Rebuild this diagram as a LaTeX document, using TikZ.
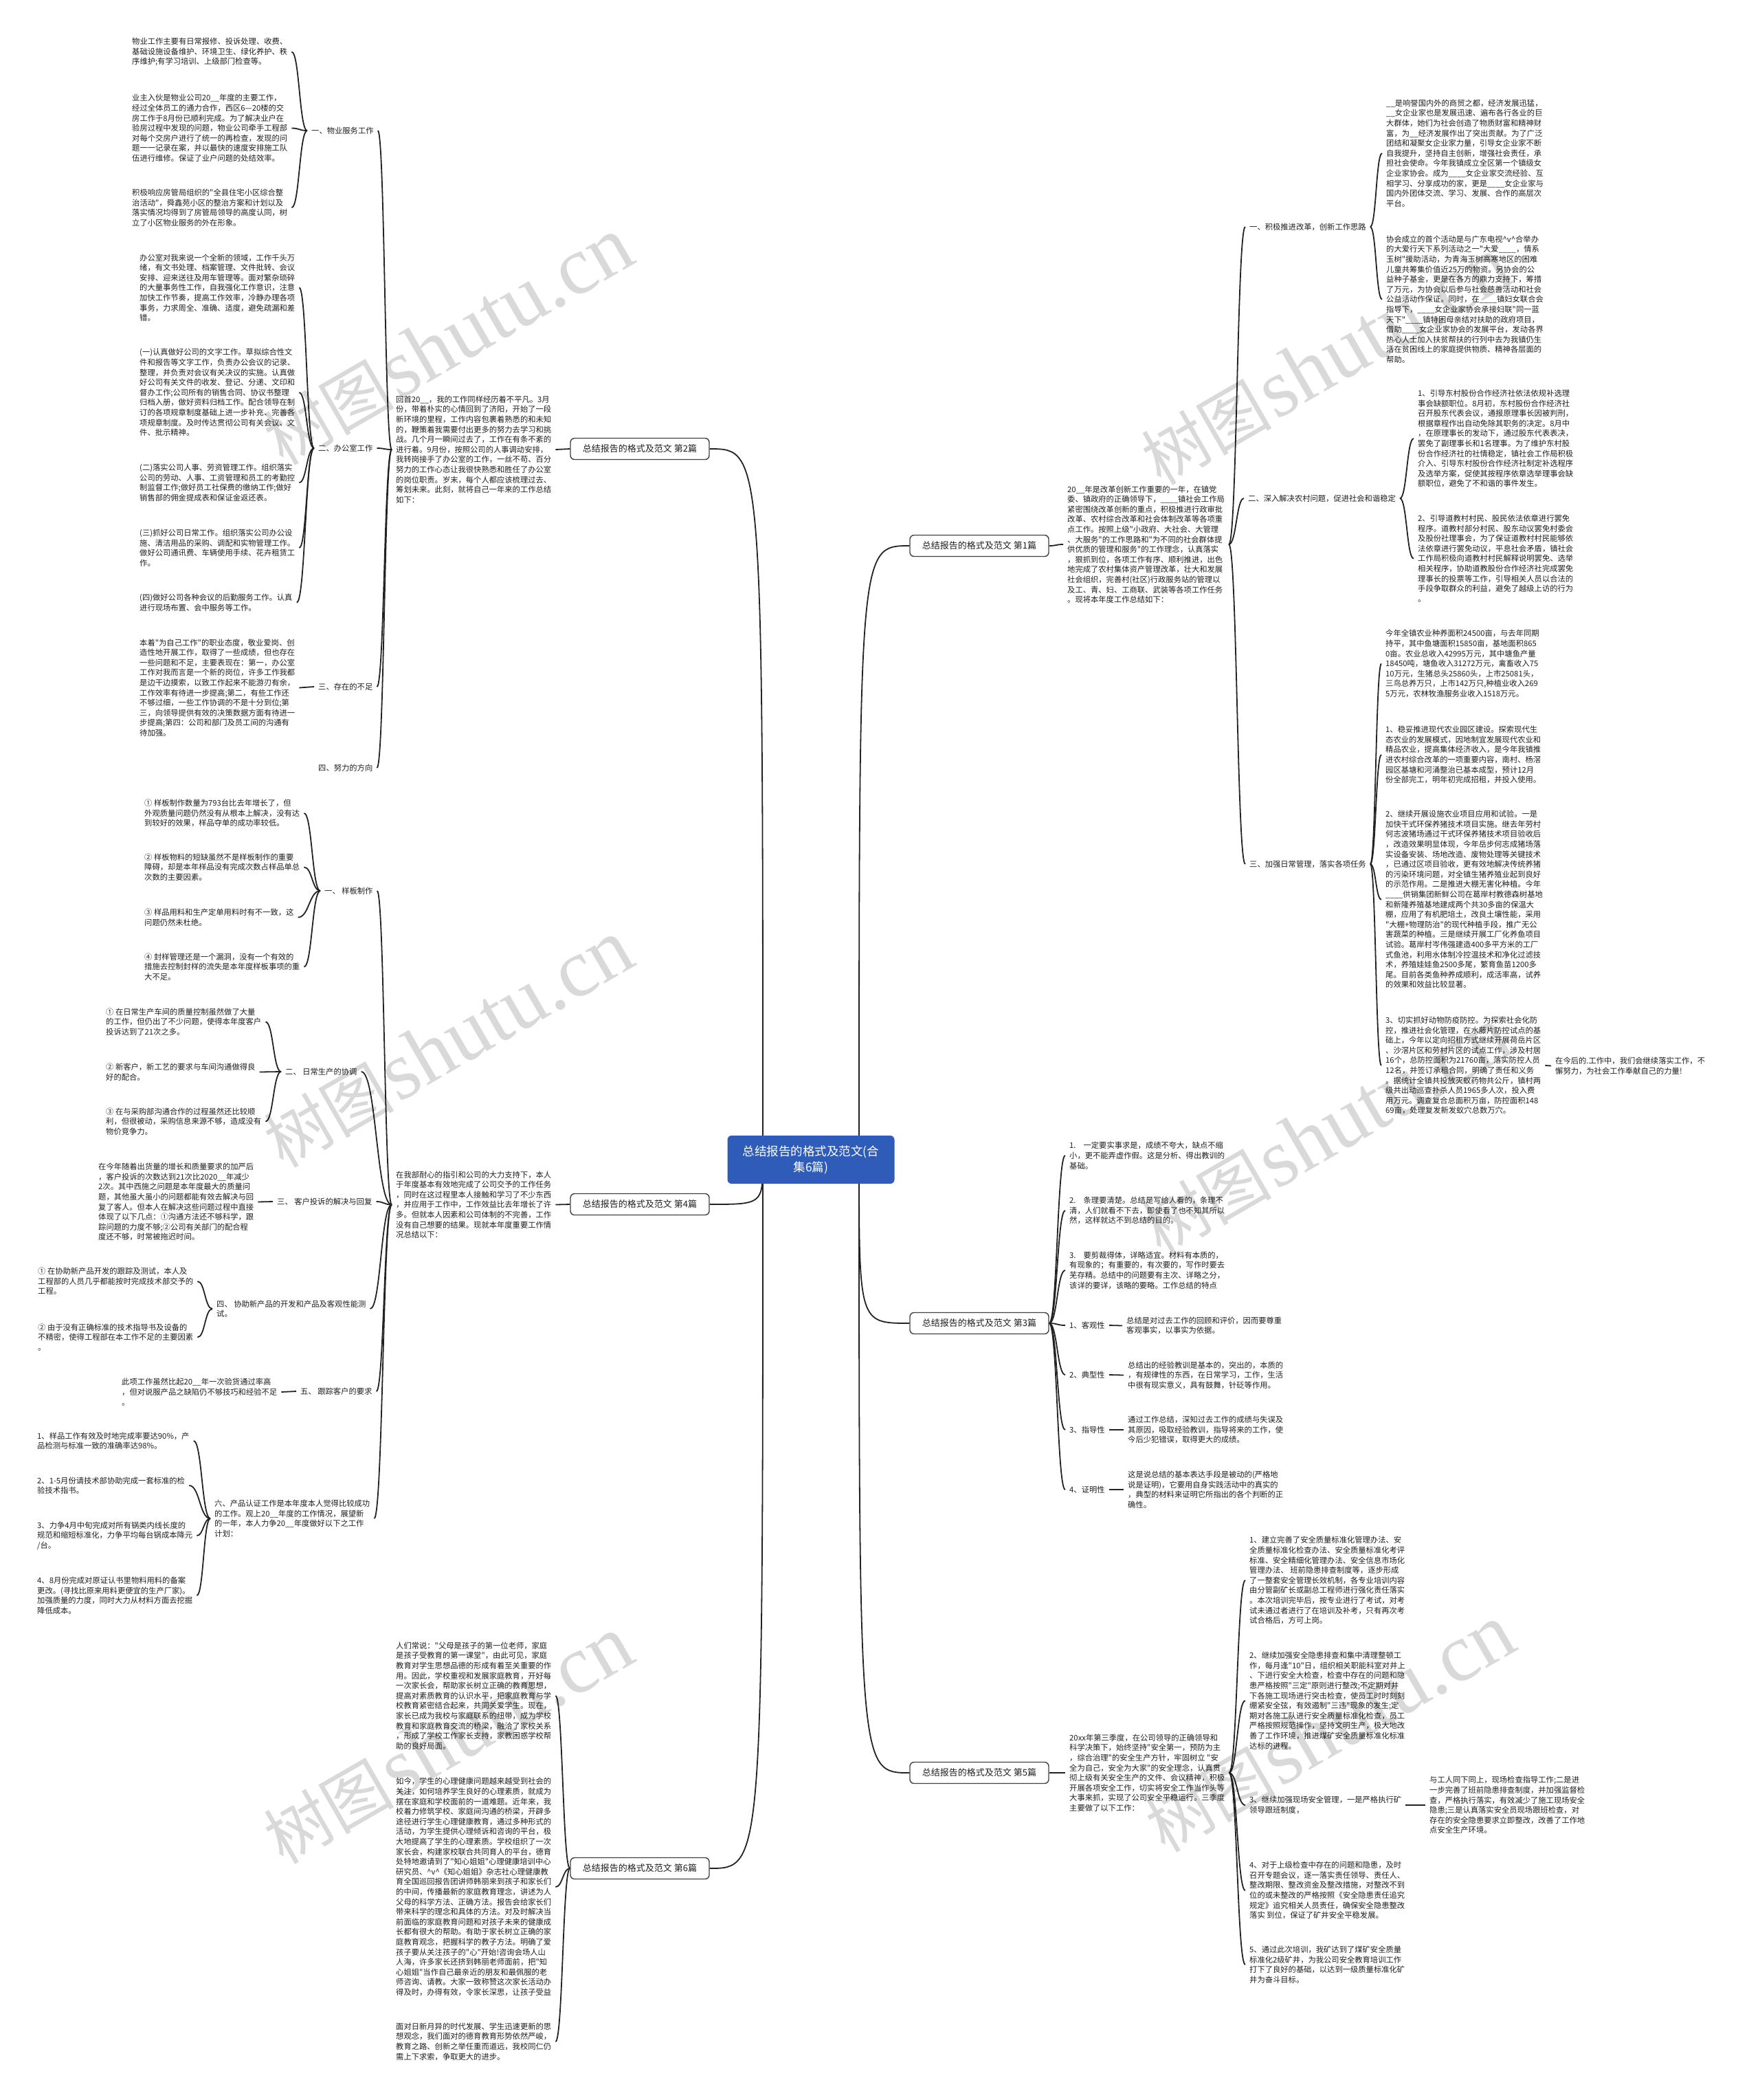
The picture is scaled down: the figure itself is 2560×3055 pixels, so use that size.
\documentclass[tikz,border=0pt]{standalone}
\usepackage{fontspec}
\newfontfamily\cjk{Noto Sans CJK SC}
\newfontfamily\wmserif{Liberation Serif}
\usetikzlibrary{calc}
\definecolor{rootblue}{HTML}{2E5CB8}
\definecolor{lnk}{HTML}{222222}
\pgfdeclarelayer{bgfill}\pgfdeclarelayer{bg}\pgfdeclarelayer{wm}
\pgfsetlayers{bgfill,bg,main,wm}
\newcommand\mylink[2]{\draw[conn] let \p1=(#1), \p2=(#2) in (\p1) .. controls ({0.5*\x1+0.5*\x2},\y1) and ({0.5*\x1+0.5*\x2},\y2) .. (\p2);}
\newcommand\myroot[2]{\draw[conn] let \p1=(#1), \p2=(#2) in (\p1) .. controls (\x1,\y2) .. (\p2);}
\newcommand\us{\_\_}
\newcommand\uss{\_\_\_\_}
\newcommand\vv{\textasciicircum v\textasciicircum}
\tikzset{
  txt/.style={font=\cjk\fontsize{11.3}{14.6}\selectfont, text=black!88, align=left, anchor=west, inner xsep=6pt, inner ysep=1pt},
  branch/.style={draw=black!75, line width=1.4pt, rounded corners=6pt, fill=white, font=\cjk\fontsize{13}{15}\selectfont, minimum width=202pt, minimum height=31pt, inner sep=0pt, text=black!88},
  rootnode/.style={fill=rootblue, rounded corners=6pt, text=white, font=\cjk\fontsize{17.5}{23}\selectfont, align=center, minimum width=243pt, minimum height=70pt, inner sep=0pt},
  conn/.style={draw=lnk, line width=1.8pt},
  wmk/.style={text=black, text opacity=0.15, rotate=30, inner sep=0pt}
}
\newcommand\wmtext{{\cjk\fontsize{95}{95}\selectfont 树图} {\wmserif\fontsize{120}{120}\selectfont shutu.cn}}
\begin{document}
\begin{tikzpicture}[x=1pt,y=-1pt]
\begin{pgfonlayer}{bgfill}
\fill[white] (0,0) rectangle (2560,3055);
\end{pgfonlayer}
\useasboundingbox (0,0) rectangle (2560,3055);

% root and branches
\node[rootnode] (root) at (1180,1687) {总结报告的格式及范文(合\\集6篇)};
\node[branch] (b2) at (931,653) {总结报告的格式及范文 第2篇};
\node[branch] (b4) at (931,1752) {总结报告的格式及范文 第4篇};
\node[branch] (b6) at (931,2718) {总结报告的格式及范文 第6篇};
\node[branch] (b1) at (1425,794) {总结报告的格式及范文 第1篇};
\node[branch] (b3) at (1425,1925) {总结报告的格式及范文 第3篇};
\node[branch] (b5) at (1425,2579) {总结报告的格式及范文 第5篇};
\coordinate (rl) at (1110,1687);
\coordinate (rr) at (1250,1687);

% ---------- 第2篇 ----------
\node[txt] (h0) at (570,654) {回首20\us，我的工作同样经历着不平凡。3月\\
份，带着朴实的心情回到了济阳，开始了一段\\
新环境的里程，工作内容包裹着熟悉的和未知\\
的，鞭策着我需要付出更多的努力去学习和挑\\
战。几个月一瞬间过去了，工作在有条不紊的\\
进行着。9月份，按照公司的人事调动安排，\\
我转岗接手了办公室的工作，一丝不苟、百分\\
努力的工作心态让我很快熟悉和胜任了办公室\\
的岗位职责。岁末，每个人都应该梳理过去、\\
筹划未来。此刻，就将自己一年来的工作总结\\
如下：};
\node[txt] (l21) at (447,190) {一、物业服务工作};
\node[txt] (l22) at (457,652) {二、办公室工作};
\node[txt] (l23) at (457,999) {三、存在的不足};
\node[txt] (l24) at (457,1117) {四、努力的方向};
\node[txt] (ta) at (186,75.5) {物业工作主要有日常报修、投诉处理、收费、\\
基础设施设备维护、环境卫生、绿化养护、秩\\
序维护;有学习培训、上级部门检查等。};
\node[txt] (tb) at (186,186.5) {业主入伙是物业公司20\us 年度的主要工作，\\
经过全体员工的通力合作，西区6—20楼的交\\
房工作于8月份已顺利完成。为了解决业户在\\
验房过程中发现的问题，物业公司牵手工程部\\
对每个交房户进行了统一的再检查，发现的问\\
题一一记录在案，并以最快的速度安排施工队\\
伍进行维修。保证了业户问题的处结效率。};
\node[txt] (tc) at (186,302) {积极响应房管局组织的"全县住宅小区综合整\\
治活动"，舜鑫苑小区的整治方案和计划以及\\
落实情况均得到了房管局领导的高度认同，树\\
立了小区物业服务的外在形象。};
\node[txt] (td) at (197,418.5) {办公室对我来说一个全新的领域，工作千头万\\
绪，有文书处理、档案管理、文件批转、会议\\
安排、迎来送往及用车管理等。面对繁杂琐碎\\
的大量事务性工作，自我强化工作意识，注意\\
加快工作节奏，提高工作效率，冷静办理各项\\
事务，力求周全、准确、适度，避免疏漏和差\\
错。};
\node[txt] (te) at (197,571) {(一)认真做好公司的文字工作。草拟综合性文\\
件和报告等文字工作，负责办公会议的记录、\\
整理，并负责对会议有关决议的实施。认真做\\
好公司有关文件的收发、登记、分递、文印和\\
督办工作;公司所有的销售合同、协议书整理\\
归档入册，做好资料归档工作。配合领导在制\\
订的各项规章制度基础上进一步补充、完善各\\
项规章制度。及时传达贯彻公司有关会议、文\\
件、批示精神。};
\node[txt] (tf) at (197,702) {(二)落实公司人事、劳资管理工作。组织落实\\
公司的劳动、人事、工资管理和员工的考勤控\\
制监督工作;做好员工社保费的缴纳工作;做好\\
销售部的佣金提成表和保证金返还表。};
\node[txt] (tg) at (197,797) {(三)抓好公司日常工作。组织落实公司办公设\\
施、清洁用品的采购、调配和实物管理工作。\\
做好公司通讯费、车辆使用手续、花卉租赁工\\
作。};
\node[txt] (th) at (197,876.5) {(四)做好公司各种会议的后勤服务工作。认真\\
进行现场布置、会中服务等工作。};
\node[txt] (ti) at (197,1000.5) {本着"为自己工作"的职业态度，敬业爱岗、创\\
造性地开展工作，取得了一些成绩，但也存在\\
一些问题和不足，主要表现在：第一，办公室\\
工作对我而言是一个新的岗位，许多工作我都\\
是边干边摸索，以致工作起来不能游刃有余，\\
工作效率有待进一步提高;第二，有些工作还\\
不够过细，一些工作协调的不是十分到位;第\\
三，向领导提供有效的决策数据方面有待进一\\
步提高;第四：公司和部门及员工间的沟通有\\
待加强。};

% ---------- 第4篇 ----------
\node[txt] (p0) at (570,1752.5) {在我部耐心的指引和公司的大力支持下，本人\\
于年度基本有效地完成了公司交予的工作任务\\
，同时在这过程里本人接触和学习了不少东西\\
，并应用于工作中，工作效益比去年增长了许\\
多。但就本人因素和公司体制的不完善，工作\\
没有自己想要的结果。现就本年度重要工作情\\
况总结以下：};
\node[txt] (l41) at (466,1296) {一、 样板制作};
\node[txt] (l42) at (409,1559) {二、 日常生产的协调};
\node[txt] (l43) at (397,1748) {三、 客户投诉的解决与回复};
\node[txt] (l44) at (309,1904) {四、 协助新产品的开发和产品及客观性能测\\试。};
\node[txt] (l45) at (431,2024) {五、 跟踪客户的要求};
\node[txt] (l46) at (306,2209) {六、产品认证工作是本年度本人觉得比较成功\\
的工作。观上20\us 年度的工作情况，展望新\\
的一年，本人力争20\us 年度做好以下之工作\\
计划：};
\node[txt] (tj) at (204,1183) {① 样板制作数量为793台比去年增长了，但\\
外观质量问题仍然没有从根本上解决，没有达\\
到较好的效果，样品夺单的成功率较低。};
\node[txt] (tk) at (204,1261.5) {② 样板物料的短缺虽然不是样板制作的重要\\
障碍，却是本年样品没有完成次数占样品单总\\
次数的主要因素。};
\node[txt] (tl) at (204,1334.5) {③ 样品用料和生产定单用料时有不一致，这\\
问题仍然未杜绝。};
\node[txt] (tm) at (204,1406.5) {④ 封样管理还是一个漏洞，没有一个有效的\\
措施去控制封样的流失是本年度样板事项的重\\
大不足。};
\node[txt] (tn) at (148,1486.5) {① 在日常生产车间的质量控制虽然做了大量\\
的工作，但仍出了不少问题，使得本年度客户\\
投诉达到了21次之多。};
\node[txt] (to) at (148,1559.5) {② 新客户，新工艺的要求与车间沟通做得良\\
好的配合。};
\node[txt] (tp) at (148,1631.5) {③ 在与采购部沟通合作的过程虽然还比较顺\\
利，但很被动，采购信息来源不够，造成没有\\
物价竞争力。};
\node[txt] (tq) at (137,1748.5) {在今年随着出货量的增长和质量要求的加严后\\
，客户投诉的次数达到21次比2020\us 年减少\\
2次。其中西施之问题是本年度最大的质量问\\
题，其他虽大虽小的问题都能有效去解决与回\\
复了客人。但本人在解决这些问题过程中直接\\
体现了以下几点：①沟通方法还不够科学，跟\\
踪问题的力度不够;②公司有关部门的配合程\\
度还不够，时常被拖迟时间。};
\node[txt] (tr) at (49,1864) {① 在协助新产品开发的跟踪及测试，本人及\\
工程部的人员几乎都能按时完成技术部交予的\\
工程。};
\node[txt] (ts) at (49,1945.5) {② 由于没有正确标准的技术指导书及设备的\\
不精密，使得工程部在本工作不足的主要因素\\
。};
\node[txt] (tt) at (171,2025) {此项工作虽然比起20\us 年一次验货通过率高\\
，但对说服产品之缺陷仍不够技巧和经验不足\\
。};
\node[txt] (tu) at (48,2096) {1、样品工作有效及时地完成率要达90\%，产\\
品检测与标准一致的准确率达98\%。};
\node[txt] (tv) at (48,2161) {2、1-5月份请技术部协助完成一套标准的检\\
验技术指书。};
\node[txt] (tw) at (48,2234) {3、力争4月中旬完成对所有锅类内线长度的\\
规范和缩短标准化，力争平均每台锅成本降元\\
/台。};
\node[txt] (tx) at (48,2321) {4、8月份完成对原证认书里物料用料的备案\\
更改。(寻找比原来用料更便宜的生产厂家)。\\
加强质量的力度，同时大力从材料方面去挖掘\\
降低成本。};

% ---------- 第6篇 ----------
\node[txt] (y1) at (570,2467) {人们常说："父母是孩子的第一位老师，家庭\\
是孩子受教育的第一课堂"，由此可见，家庭\\
教育对学生思想品德的形成有着至关重要的作\\
用。因此，学校重视和发展家庭教育，开好每\\
一次家长会，帮助家长树立正确的教育思想，\\
提高对素质教育的认识水平，把家庭教育与学\\
校教育紧密结合起来，共同关爱学生。现在，\\
家长已成为我校与家庭联系的纽带，成为学校\\
教育和家庭教育交流的桥梁，融洽了家校关系\\
，形成了学校工作家长支持，家教困惑学校帮\\
助的良好局面。};
\node[txt] (y2) at (570,2745) {如今，学生的心理健康问题越来越受到社会的\\
关注，如何培养学生良好的心理素质，就成为\\
摆在家庭和学校面前的一道难题。近年来，我\\
校着力修筑学校、家庭间沟通的桥梁，开辟多\\
途径进行学生心理健康教育，通过多种形式的\\
活动，为学生提供心理倾诉和咨询的平台，极\\
大地提高了学生的心理素质。学校组织了一次\\
家长会，构建家校联合共同育人的平台，德育\\
处特地邀请到了"知心姐姐"心理健康培训中心\\
研究员、\vv《知心姐姐》杂志社心理健康教\\
育全国巡回报告团讲师韩丽来到孩子和家长们\\
的中间，传播最新的家庭教育理念，讲述为人\\
父母的科学方法、正确方法。报告会给家长们\\
带来科学的理念和具体的方法。对及时解决当\\
前面临的家庭教育问题和对孩子未来的健康成\\
长都有很大的帮助。有助于家长树立正确的家\\
庭教育观念，把握科学的教子方法。明确了爱\\
孩子要从关注孩子的"心"开始!咨询会场人山\\
人海，许多家长还挤到韩丽老师面前，把"知\\
心姐姐"当作自己最亲近的朋友和最佩服的老\\
师咨询、请教。大家一致称赞这次家长活动办\\
得及时，办得有效，令家长深思，让孩子受益};
\node[txt] (y3) at (570,2970) {面对日新月异的时代发展、学生迅速更新的思\\
想观念，我们面对的德育教育形势依然严峻，\\
教育之路、创新之举任重而道远，我校同仁仍\\
需上下求索，争取更大的进步。};

% ---------- 第1篇 ----------
\node[txt] (i1) at (1547,792) {20\us 年是改革创新工作重要的一年，在镇党\\
委、镇政府的正确领导下，\uss 镇社会工作局\\
紧密围绕改革创新的重点，积极推进行政审批\\
改革、农村综合改革和社会体制改革等各项重\\
点工作。按照上级"小政府、大社会、大管理\\
、大服务"的工作思路和"为不同的社会群体提\\
供优质的管理和服务"的工作理念，认真落实\\
，狠抓到位，各项工作有序、顺利推进，出色\\
地完成了农村集体资产管理改革，壮大和发展\\
社会组织，完善村(社区)行政服务站的管理以\\
及工、青、妇、工商联、武装等各项工作任务\\
。现将本年度工作总结如下：};
\node[txt] (r11) at (1812,330) {一、积极推进改革，创新工作思路};
\node[txt] (r12) at (1810,725) {二、深入解决农村问题，促进社会和谐稳定};
\node[txt] (r13) at (1812,1257) {三、加强日常管理，落实各项任务};
\node[txt] (z1) at (2011,223) {\us 是响誉国内外的商贸之都，经济发展迅猛，\\
\us 女企业家也是发展迅速、遍布各行各业的巨\\
大群体，她们为社会创造了物质财富和精神财\\
富，为\us 经济发展作出了突出贡献。为了广泛\\
团结和凝聚女企业家力量，引导女企业家不断\\
自我提升，坚持自主创新，增强社会责任，承\\
担社会使命。今年我镇成立全区第一个镇级女\\
企业家协会。成为\uss 女企业家交流经验、互\\
相学习、分享成功的家，更是\uss 女企业家与\\
国内外团体交流、学习、发展、合作的高层次\\
平台。};
\node[txt] (z2) at (2011,435.5) {协会成立的首个活动是与广东电视\vv 合举办\\
的大爱行天下系列活动之一"大爱\uss ，情系\\
玉树"援助活动，为青海玉树高寒地区的困难\\
儿童共筹集价值近25万的物资。另协会的公\\
益种子基金，更是在各方的鼎力支持下，筹措\\
了万元，为协会以后参与社会慈善活动和社会\\
公益活动作保证。同时，在\uss 镇妇女联合会\\
指导下，\uss 女企业家协会承接妇联"同一蓝\\
天下"\uss 镇特困母亲结对扶助的政府项目，\\
借助\uss 女企业家协会的发展平台，发动各界\\
热心人士加入扶贫帮扶的行列中去为我镇仍生\\
活在贫困线上的家庭提供物质、精神各层面的\\
帮助。};
\node[txt] (z3) at (2057,638) {1、引导东村股份合作经济社依法依规补选理\\
事会缺额职位。8月初，东村股份合作经济社\\
召开股东代表会议，通报原理事长因被判刑，\\
根据章程作出自动免除其职务的决定。8月中\\
，在原理事长的发动下，通过股东代表表决，\\
罢免了副理事长和1名理事。为了维护东村股\\
份合作经济社的社情稳定，镇社会工作局积极\\
介入、引导东村股份合作经济社制定补选程序\\
及选举方案，促使其按程序依章选举理事会缺\\
额职位，避免了不和谐的事件发生。};
\node[txt] (z4) at (2057,812.5) {2、引导道教村村民、股民依法依章进行罢免\\
程序。道教村部分村民、股东动议罢免村委会\\
及股份社理事会，为了保证道教村村民能够依\\
法依章进行罢免动议，平息社会矛盾，镇社会\\
工作局积极向道教村村民解释说明罢免、选举\\
相关程序，协助道教股份合作经济社完成罢免\\
理事长的投票等工作，引导相关人员以合法的\\
手段争取群众的利益，避免了越级上访的行为\\
。};
\node[txt] (z5) at (2010,965.5) {今年全镇农业种养面积24500亩，与去年同期\\
持平，其中鱼塘面积15850亩，基地面积865\\
0亩。农业总收入42995万元，其中塘鱼产量\\
18450吨，塘鱼收入31272万元，禽畜收入75\\
10万元，生猪总头25860头，上市25081头，\\
三鸟总养万只，上市142万只,种植业收入269\\
5万元，农林牧渔服务业收入1518万元。};
\node[txt] (z6) at (2010,1098) {1、稳妥推进现代农业园区建设。探索现代生\\
态农业的发展模式，因地制宜发展现代农业和\\
精品农业，提高集体经济收入，是今年我镇推\\
进农村综合改革的一项重要内容，南村、杨滘\\
园区基塘和河涌整治已基本成型，预计12月\\
份全部完工，明年初完成招租，并投入使用。};
\node[txt] (z7) at (2010,1308.5) {2、继续开展设施农业项目应用和试验。一是\\
加快干式环保养猪技术项目实施。继去年劳村\\
何志波猪场通过干式环保养猪技术项目验收后\\
，改造效果明显体现，今年岳步何志成猪场落\\
实设备安装、场地改造、废物处理等关键技术\\
，已通过区项目验收，更有效地解决传统养猪\\
的污染环境问题，对全镇生猪养殖业起到良好\\
的示范作用。二是推进大棚无害化种植。今年\\
\uss 供销集团新鲜公司在葛岸村教德森树基地\\
和新隆养殖基地建成两个共30多亩的保温大\\
棚，应用了有机肥培土，改良土壤性能，采用\\
"大棚+物理防治"的现代种植手段，推广无公\\
害蔬菜的种植。三是继续开展工厂化养鱼项目\\
试验。葛岸村岑伟强建造400多平方米的工厂\\
式鱼池，利用水体制冷控温技术和净化过滤技\\
术，养殖娃娃鱼2500多尾，繁育鱼苗1200多\\
尾。目前各类鱼种养成顺利，成活率高，试养\\
的效果和效益比较显著。};
\node[txt] (z8) at (2010,1550) {3、切实抓好动物防疫防控。为探索社会化防\\
控，推进社会化管理，在水藤片防控试点的基\\
础上，今年以定向招租方式继续开展荷岳片区\\
、沙滘片区和劳村片区的试点工作，涉及村居\\
16个，总防控面积为21760亩，落实防控人员\\
12名，并签订承租合同，明确了责任和义务\\
。据统计全镇共投放灭蚁药物共公斤，镇村两\\
级共出动巡查扑杀人员1965多人次，投入费\\
用万元。调查复合总面积万亩，防控面积148\\
69亩，处理复发新发蚁穴总数万穴。};
\node[txt] (k1) at (2257,1550.5) {在今后的.工作中，我们会继续落实工作，不\\
懈努力，为社会工作奉献自己的力量!};

% ---------- 第3篇 ----------
\node[txt] (s3a) at (1550,1681) {1.\hspace{11pt}一定要实事求是，成绩不夸大，缺点不缩\\
小，更不能弄虚作假。这是分析、得出教训的\\
基础。};
\node[txt] (s3b) at (1550,1761) {2.\hspace{11pt}条理要清楚。总结是写给人看的，条理不\\
清，人们就看不下去，即使看了也不知其所以\\
然，这样就达不到总结的目的。};
\node[txt] (s3c) at (1550,1848) {3.\hspace{11pt}要剪裁得体，详略适宜。材料有本质的，\\
有现象的；有重要的，有次要的，写作时要去\\
芜存精。总结中的问题要有主次、详略之分，\\
该详的要详，该略的要略。工作总结的特点};
\node[txt] (c1) at (1550,1928) {1、客观性};
\node[txt] (c2) at (1550,2000) {2、典型性};
\node[txt] (c3) at (1550,2080) {3、指导性};
\node[txt] (c4) at (1550,2167) {4、证明性};
\node[txt] (c1t) at (1633,1928.5) {总结是对过去工作的回顾和评价，因而要尊重\\
客观事实，以事实为依据。};
\node[txt] (c2t) at (1635,2000.5) {总结出的经验教训是基本的，突出的，本质的\\
，有规律性的东西，在日常学习，工作，生活\\
中很有现实意义，具有鼓舞，针砭等作用。};
\node[txt] (c3t) at (1635,2080) {通过工作总结，深知过去工作的成绩与失误及\\
其原因，吸取经验教训，指导将来的工作，使\\
今后少犯错误，取得更大的成绩。};
\node[txt] (c4t) at (1635,2167) {这是说总结的基本表达手段是被动的(严格地\\
说是证明)，它要用自身实践活动中的真实的\\
，典型的材料来证明它所指出的各个判断的正\\
确性。};

% ---------- 第5篇 ----------
\node[txt] (i5) at (1550,2579) {20xx年第三季度，在公司领导的正确领导和\\
科学决策下，始终坚持"安全第一，预防为主\\
，综合治理"的安全生产方针，牢固树立 "安\\
全为自己，安全为大家"的安全理念，认真贯\\
彻上级有关安全生产的文件、会议精神，积极\\
开展各项安全工作，切实将安全工作当作头等\\
大事来抓，实现了公司安全平稳运行。三季度\\
主要做了以下工作：};
\node[txt] (f1) at (1812,2299) {1、建立完善了安全质量标准化管理办法、安\\
全质量标准化检查办法、安全质量标准化考评\\
标准、安全精细化管理办法、安全信息市场化\\
管理办法、 班前隐患排查制度等，逐步形成\\
了一整套安全管理长效机制，各专业培训内容\\
由分管副矿长或副总工程师进行强化责任落实\\
。本次培训完毕后，按专业进行了考试，对考\\
试未通过者进行了在培训及补考，只有再次考\\
试合格后，方可上岗。};
\node[txt] (f2) at (1812,2474) {2、继续加强安全隐患排查和集中清理整顿工\\
作，每月逢"10"日，组织相关职能科室对井上\\
、下进行安全大检查，检查中存在的问题和隐\\
患严格按照"三定"原则进行整改;不定期对井\\
下各施工现场进行突击检查，使员工时时刻刻\\
绷紧安全弦，有效遏制"三违"现象的发生;定\\
期对各施工队进行安全质量标准化检查，员工\\
严格按照规范操作，坚持文明生产，极大地改\\
善了工作环境，推进煤矿安全质量标准化标准\\
达标的进程。};
\node[txt] (f3) at (1812,2626) {3、继续加强现场安全管理，一是严格执行矿\\
领导跟班制度，};
\node[txt] (f3s) at (2074,2626) {与工人同下同上，现场检查指导工作;二是进\\
一步完善了班前隐患排查制度，并加强监督检\\
查，严格执行落实，有效减少了施工现场安全\\
隐患;三是认真落实安全员现场跟班检查，对\\
存在的安全隐患要求立即整改，改善了工作地\\
点安全生产环境。};
\node[txt] (f4) at (1812,2750) {4、对于上级检查中存在的问题和隐患，及时\\
召开专题会议，逐一落实责任领导、责任人、\\
整改期限、整改资金及整改措施，对整改不到\\
位的或未整改的严格按照《安全隐患责任追究\\
规定》追究相关人员责任，确保安全隐患整改\\
落实 到位，保证了矿井安全平稳发展。};
\node[txt] (f5) at (1812,2858) {5、通过此次培训，我矿达到了煤矿安全质量\\
标准化2级矿井，为我公司安全教育培训工作\\
打下了良好的基础，以达到一级质量标准化矿\\
井为奋斗目标。};

% ---------- connectors ----------
\begin{pgfonlayer}{bg}
\myroot{rl}{b2.east}
\myroot{rl}{b4.east}
\myroot{rl}{b6.east}
\myroot{rr}{b1.west}
\myroot{rr}{b3.west}
\myroot{rr}{b5.west}
% 第2篇
\mylink{b2.west}{h0.east}
\foreach \q in {l21,l22,l23,l24} {\mylink{h0.west}{\q.east}}
\foreach \q in {ta,tb,tc} {\mylink{l21.west}{\q.east}}
\foreach \q in {td,te,tf,tg,th} {\mylink{l22.west}{\q.east}}
\draw[conn] (l23.west) -- (ti.east);
% 第4篇
\mylink{b4.west}{p0.east}
\foreach \q in {l41,l42,l43,l44,l45,l46} {\mylink{p0.west}{\q.east}}
\foreach \q in {tj,tk,tl,tm} {\mylink{l41.west}{\q.east}}
\foreach \q in {tn,to,tp} {\mylink{l42.west}{\q.east}}
\draw[conn] (l43.west) -- (tq.east);
\foreach \q in {tr,ts} {\mylink{l44.west}{\q.east}}
\draw[conn] (l45.west) -- (tt.east);
\foreach \q in {tu,tv,tw,tx} {\mylink{l46.west}{\q.east}}
% 第6篇
\foreach \q in {y1,y2,y3} {\mylink{b6.west}{\q.east}}
% 第1篇
\mylink{b1.east}{i1.west}
\foreach \q in {r11,r12,r13} {\mylink{i1.east}{\q.west}}
\foreach \q in {z1,z2} {\mylink{r11.east}{\q.west}}
\foreach \q in {z3,z4} {\mylink{r12.east}{\q.west}}
\foreach \q in {z5,z6,z7,z8} {\mylink{r13.east}{\q.west}}
\draw[conn] (z8.east) -- (k1.west);
% 第3篇
\foreach \q in {s3a,s3b,s3c,c1,c2,c3,c4} {\mylink{b3.east}{\q.west}}
\draw[conn] (c1.east) -- (c1t.west);
\draw[conn] (c2.east) -- (c2t.west);
\draw[conn] (c3.east) -- (c3t.west);
\draw[conn] (c4.east) -- (c4t.west);
% 第5篇
\mylink{b5.east}{i5.west}
\foreach \q in {f1,f2,f3,f4,f5} {\mylink{i5.east}{\q.west}}
\draw[conn] (f3.east) -- (f3s.west);
\end{pgfonlayer}

% watermarks
\begin{pgfonlayer}{wm}
\node[wmk] (w1) at (652,497) {\wmtext};
\node[wmk] (w2) at (1929,526) {\wmtext};
\node[wmk] (w3) at (652,1519) {\wmtext};
\node[wmk] (w4) at (1929,1646) {\wmtext};
\node[wmk] (w5) at (652,2532) {\wmtext};
\node[wmk] (w6) at (1935,2515) {\wmtext};
\end{pgfonlayer}
\end{tikzpicture}
\end{document}
